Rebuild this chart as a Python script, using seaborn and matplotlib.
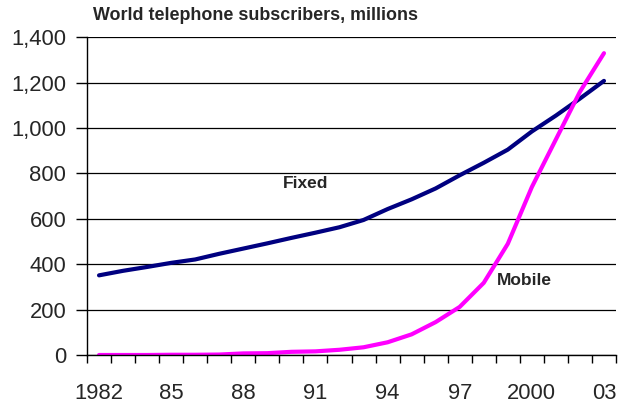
import matplotlib
matplotlib.use("Agg")
import matplotlib.pyplot as plt
import seaborn as sns
import pandas as pd
import numpy as np
from matplotlib.ticker import FuncFormatter

# ---- data ----
years = list(range(1982, 2004))
year_labels = ["1982", "85", "88", "91", "94", "97", "2000", "03"]
label_years = [1982, 1985, 1988, 1991, 1994, 1997, 2000, 2003]
fixed = [351, 371, 388, 406, 421, 446, 469, 492, 516, 539, 563, 595,
         643, 686, 734, 792, 847, 905, 985, 1055, 1130, 1208]
mobile = [0, 0, 0, 1, 1, 2, 7, 8, 14, 16, 23, 34,
          56, 91, 145, 212, 318, 490, 740, 950, 1160, 1330]
series_names = ["Fixed", "Mobile"]
colors = {"Fixed": "#000080", "Mobile": "#FF00FF"}
title = "World telephone subscribers, millions"

sns.set_style("white")
plt.rcParams["font.family"] = ["Liberation Sans", "DejaVu Sans"]

n = len(years)
idx = list(range(n))
df = pd.DataFrame({
    "idx": idx * 2,
    "value": fixed + mobile,
    "series": [series_names[0]] * n + [series_names[1]] * n,
})

fig = plt.figure(figsize=(6.21, 4.07), dpi=100)
W, H = 621, 407
ax = fig.add_axes([87 / W, 1 - 355 / H, (616 - 87) / W, (355 - 37.3) / H])

ax.yaxis.grid(True, color="black", linewidth=0.9)
ax.xaxis.grid(False)
ax.set_axisbelow(True)

sns.lineplot(data=df, x="idx", y="value", hue="series", palette=colors,
             linewidth=3, legend=False, ax=ax, solid_capstyle="round")

ax.set_xlim(-0.5, n - 0.5)
ax.set_ylim(0, 1400)
ax.set_xlabel("")
ax.set_ylabel("")

for s in ["top", "right"]:
    ax.spines[s].set_visible(False)
for s in ["left", "bottom"]:
    ax.spines[s].set_color("black")
    ax.spines[s].set_linewidth(1.0)

ax.set_yticks(range(0, 1401, 200))
ax.yaxis.set_major_formatter(FuncFormatter(lambda v, p: f"{int(v):,}"))
ax.tick_params(axis="y", direction="out", length=8, width=1, color="black",
               labelsize=15.8, pad=7, left=True)

ax.set_xticks([years.index(y) for y in label_years])
ax.set_xticklabels(year_labels)
ax.set_xticks(np.arange(-0.5, n, 1.0), minor=True)
ax.tick_params(axis="x", which="major", length=0, labelsize=15.8, pad=20)
ax.tick_params(axis="x", which="minor", direction="out", length=6, width=1,
               color="black", bottom=True)

ax.text(7.65, 757, "Fixed", fontsize=12.5, fontweight="bold", va="center", ha="left")
ax.text(16.55, 327, "Mobile", fontsize=12.5, fontweight="bold", va="center", ha="left")

fig.text(93 / W, 1 - 15 / H, title, fontsize=12.9, fontweight="bold",
         va="center", ha="left")

fig.savefig("out.png", dpi=100)
